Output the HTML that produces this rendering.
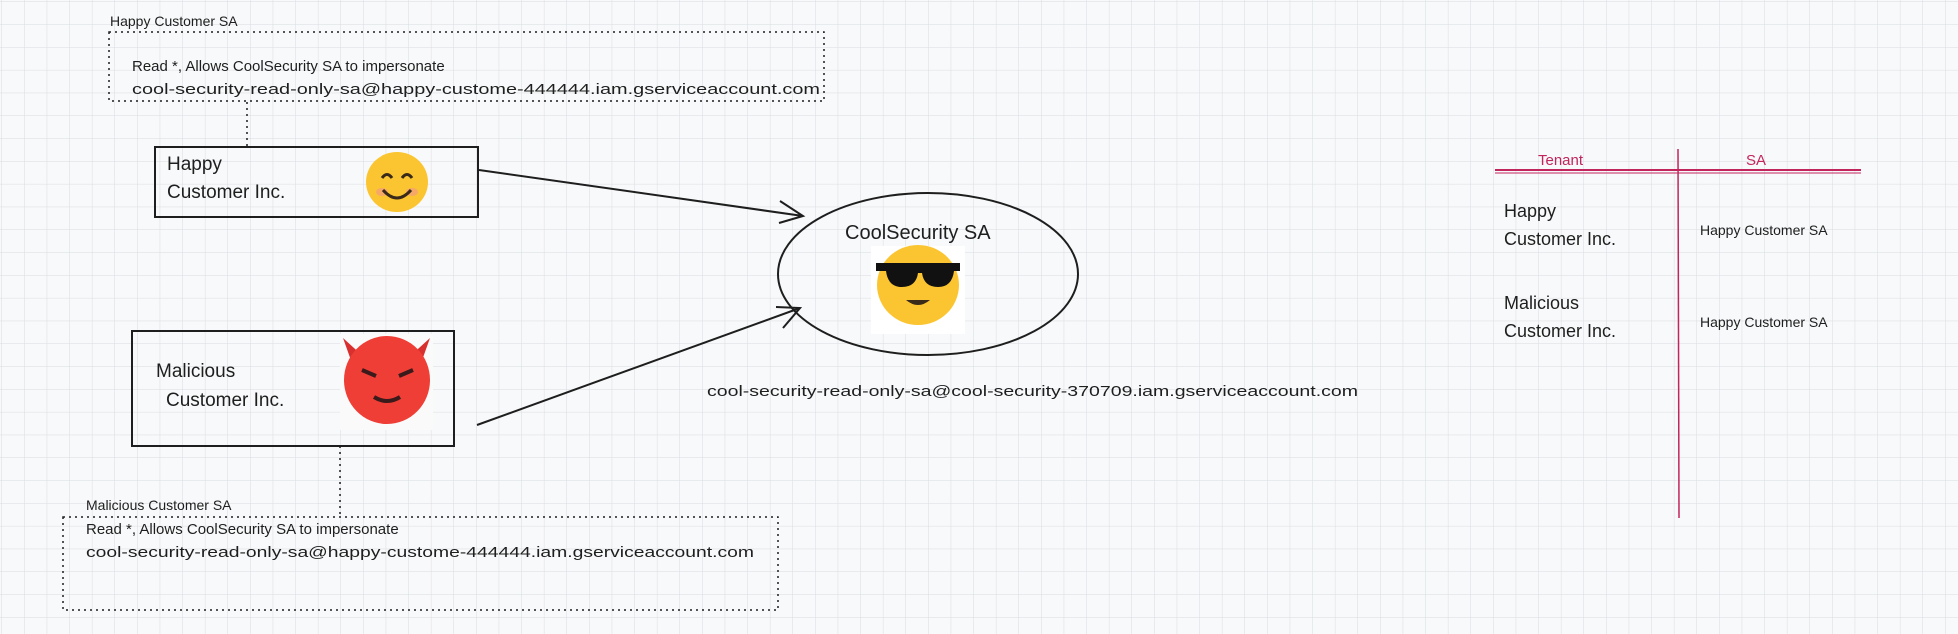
<!DOCTYPE html>
<html><head><meta charset="utf-8"><style>
html,body{margin:0;padding:0;background:#f8f9fa;}
svg{display:block;}
text{font-family:"Liberation Sans",sans-serif;fill:#1e1e1e;}
</style></head><body>
<svg width="1958" height="634" viewBox="0 0 1958 634" xmlns="http://www.w3.org/2000/svg">
<defs>
<pattern id="g" width="22.6" height="22.8" patternUnits="userSpaceOnUse" x="2" y="2">
<path d="M22.6 0V22.8M0 22.8H22.6" fill="none" stroke="#d9dce1" stroke-width="1"/>
</pattern>
</defs>
<rect width="1958" height="634" fill="#f8f9fa"/>
<rect width="1958" height="634" fill="url(#g)"/>

<!-- top SA box -->
<text x="110" y="26" font-size="14">Happy Customer SA</text>
<rect x="109" y="32" width="715" height="69" fill="none" stroke="#1e1e1e" stroke-width="1.5" stroke-dasharray="2,4"/>
<text x="132" y="71" font-size="15">Read *, Allows CoolSecurity SA to impersonate</text>
<text x="132" y="94" font-size="15" textLength="688" lengthAdjust="spacingAndGlyphs">cool-security-read-only-sa@happy-custome-444444.iam.gserviceaccount.com</text>
<line x1="247" y1="102" x2="247" y2="147" stroke="#1e1e1e" stroke-width="1.5" stroke-dasharray="2,4"/>

<!-- Happy box -->
<rect x="155" y="147" width="323" height="70" fill="none" stroke="#1e1e1e" stroke-width="2"/>
<text x="167" y="170" font-size="19">Happy</text>
<text x="167" y="198" font-size="19">Customer Inc.</text>
<ellipse cx="397" cy="182" rx="31" ry="30" fill="#fbc531"/>
<ellipse cx="382" cy="192" rx="6" ry="4" fill="#f39b7f" opacity=".7"/>
<ellipse cx="412" cy="192" rx="6" ry="4" fill="#f39b7f" opacity=".7"/>
<path d="M382 178q5-7 10 0M402 178q5-7 10 0" stroke="#3a2a1a" stroke-width="3" fill="none"/>
<path d="M383 190q14 16 28 0" stroke="#3a2a1a" stroke-width="3" fill="none"/>

<!-- Malicious box -->
<rect x="132" y="331" width="322" height="115" fill="none" stroke="#1e1e1e" stroke-width="2"/>
<text x="156" y="377" font-size="19">Malicious</text>
<text x="166" y="406" font-size="19">Customer Inc.</text>
<rect x="340" y="334" width="93" height="96" fill="#fafafa"/>
<path d="M343 338l10 28 12-8z M430 338l-10 28-12-8z" fill="#d8302e"/>
<ellipse cx="387" cy="380" rx="43" ry="44" fill="#ef3e36"/>
<path d="M362 370l14 6M413 370l-14 6" stroke="#3a1a1a" stroke-width="4"/>
<path d="M374 397q13 8 26 0" stroke="#3a1a1a" stroke-width="4" fill="none"/>
<line x1="340" y1="446" x2="340" y2="516" stroke="#1e1e1e" stroke-width="1.5" stroke-dasharray="2,4"/>

<!-- bottom SA box -->
<text x="86" y="510" font-size="14">Malicious Customer SA</text>
<rect x="63" y="517" width="715" height="93" fill="none" stroke="#1e1e1e" stroke-width="1.5" stroke-dasharray="2,4"/>
<text x="86" y="534" font-size="15">Read *, Allows CoolSecurity SA to impersonate</text>
<text x="86" y="557" font-size="15" textLength="668" lengthAdjust="spacingAndGlyphs">cool-security-read-only-sa@happy-custome-444444.iam.gserviceaccount.com</text>

<!-- arrows -->
<path d="M479 170L803 216M780 201l23 15-24 7" stroke="#1e1e1e" stroke-width="2" fill="none"/>
<path d="M477 425L800 308M776 307l24 1-17 20" stroke="#1e1e1e" stroke-width="2" fill="none"/>

<!-- ellipse -->
<ellipse cx="928" cy="274" rx="150" ry="81" fill="none" stroke="#1e1e1e" stroke-width="2"/>
<text x="845" y="239" font-size="20">CoolSecurity SA</text>
<rect x="871" y="246" width="94" height="88" fill="#fff"/>
<ellipse cx="918" cy="285" rx="41" ry="40" fill="#fbc531"/>
<path d="M876 263h84v8l-6 0q-2 16-16 16q-14 0-16-14h-4q-2 14-16 14q-14 0-16-16l-10 0z" fill="#111"/>
<path d="M906 300q12 10 24 0z" fill="#3a2a1a"/>
<text x="707" y="396" font-size="15" textLength="651" lengthAdjust="spacingAndGlyphs">cool-security-read-only-sa@cool-security-370709.iam.gserviceaccount.com</text>

<!-- table -->
<line x1="1495" y1="170" x2="1861" y2="170" stroke="#c2255c" stroke-width="2"/>
<line x1="1495" y1="173" x2="1861" y2="173" stroke="#c2255c" stroke-width="1"/>
<line x1="1678" y1="149" x2="1679" y2="518" stroke="#c2255c" stroke-width="1.5"/>
<text x="1538" y="165" font-size="15" style="fill:#c2255c">Tenant</text>
<text x="1746" y="165" font-size="15" style="fill:#c2255c">SA</text>
<text x="1504" y="217" font-size="18">Happy</text>
<text x="1504" y="245" font-size="18">Customer Inc.</text>
<text x="1700" y="235" font-size="14">Happy Customer SA</text>
<text x="1504" y="309" font-size="18">Malicious</text>
<text x="1504" y="337" font-size="18">Customer Inc.</text>
<text x="1700" y="327" font-size="14">Happy Customer SA</text>
</svg>
</body></html>
